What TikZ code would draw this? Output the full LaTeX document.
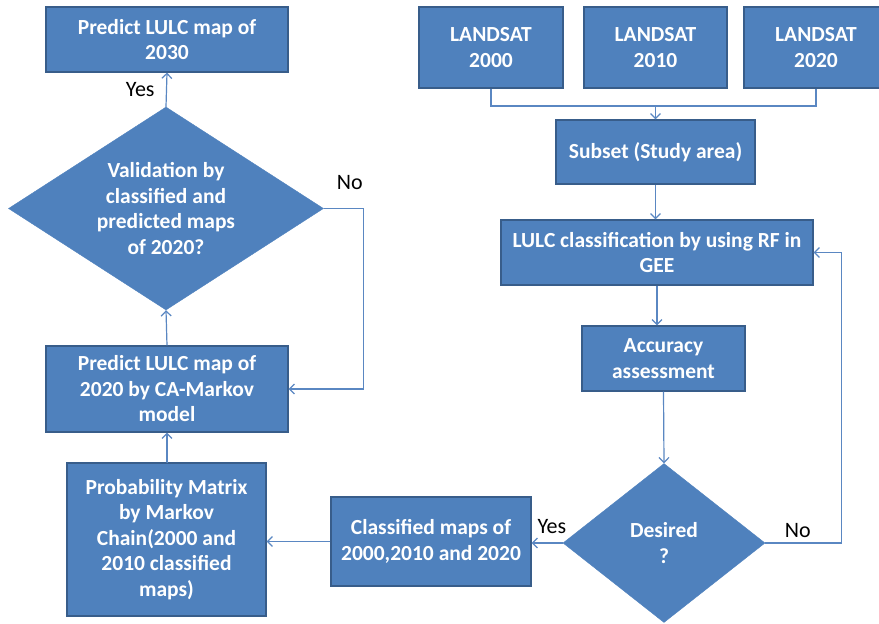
\documentclass[tikz,border=0pt]{standalone}
\usepackage{fontspec}
\setmainfont{Carlito}
\usepackage{tikz}
\usetikzlibrary{positioning}
\usetikzlibrary{shapes.geometric, arrows.meta}
\definecolor{boxblue}{HTML}{4F81BD}
\definecolor{edgeblue}{HTML}{385D8A}
\definecolor{lineblue}{HTML}{5A87C2}
\tikzstyle{process} = [rectangle, draw=edgeblue, line width=1.2pt, fill=boxblue, text=white, font=\fontsize{21.5}{25.5}\selectfont\bfseries, align=center, inner sep=2pt]
\tikzstyle{decision} = [diamond, draw=boxblue, fill=boxblue, text=white, font=\fontsize{21.5}{25.5}\selectfont\bfseries, align=center, inner sep=0pt]
\tikzstyle{arrow} = [line width=1.2pt, lineblue, ->, >={Straight Barb[length=5pt,width=10pt]}]
\tikzstyle{answer} = [font=\fontsize{22}{26}\selectfont, text=black]

\begin{document}
\begin{tikzpicture}[x=1pt, y=-1pt]
	\clip (0,0) rectangle (879,624);
	\useasboundingbox (0,0) rectangle (879,624);

	%Nodes
	\node (ls2000) [process, minimum width=144, minimum height=81] at (491,47.5) {LANDSAT\\2000};
	\node (ls2010) [process, minimum width=143, minimum height=81] at (655.5,47.5) {LANDSAT\\2010};
	\node (ls2020) [process, minimum width=144, minimum height=81] at (816,47.5) {LANDSAT\\2020};
	\coordinate (merge) at (655.5,106);
	\node (subset) [process, minimum width=199, minimum height=64] at (655.5,152) {Subset (Study area)};
	\node (lulc) [process, minimum width=312, minimum height=65] at (657,252.5) {LULC classification by using RF in\\GEE};
	\node (acc) [process, minimum width=163, minimum height=65] at (663.5,358.5) {Accuracy\\assessment};
	\node (desired) [decision, minimum width=202, minimum height=159, aspect=1.27] at (664,543) {Desired\\?};
	\node (classif) [process, minimum width=200, minimum height=89] at (431,541.5) {Classified maps of\\2000,2010 and 2020};
	\node (prob) [process, minimum width=199, minimum height=153] at (166.5,539.5) {Probability Matrix\\by Markov\\Chain(2000 and\\2010 classified\\maps)};
	\node (pred20) [process, minimum width=242, minimum height=86] at (167,389) {Predict LULC map of\\2020 by CA-Markov\\model};
	\node (valid) [decision, minimum width=315, minimum height=203, aspect=1.55] at (166,208.5) {Validation by\\classified and\\predicted maps\\of 2020?};
	\node (pred30) [process, minimum width=242, minimum height=65] at (167,39.5) {Predict LULC map of\\2030};

	%Lines
	\draw[lineblue, line width=1.2pt] (ls2000.south) |- (merge);
	\draw[lineblue, line width=1.2pt] (ls2020.south) |- (merge);
	\draw[arrow] (merge) -- (merge |- subset.north);
	\draw[arrow] (subset.south) -- (subset.south |- lulc.north);
	\draw[arrow] (lulc.south) -- (lulc.south |- acc.north);
	\draw[arrow] (acc.south) -- (desired.north);
	\draw[arrow] (desired.west) -- node[answer, above, pos=0.35, yshift=5pt]{Yes} (desired.west -| classif.east);
	\draw[arrow] (desired.east) -- node[answer, above, pos=0.43, yshift=1pt]{No} ++(76,0) |- (lulc.east);
	\draw[arrow] (classif.west) -- (classif.west -| prob.east);
	\draw[arrow] (prob.north) -- (prob.north -| pred20.south) -- (pred20.south);
	\draw[arrow] (pred20.north) -- (valid.south);
	\draw[arrow] (valid.east) -- node[answer, above, pos=0.65, yshift=15pt]{No} ++(40,0) |- (pred20.east);
	\draw[arrow] (valid.north) -- node[answer, left, xshift=-8pt]{Yes} (pred30.south);

\end{tikzpicture}
\end{document}
